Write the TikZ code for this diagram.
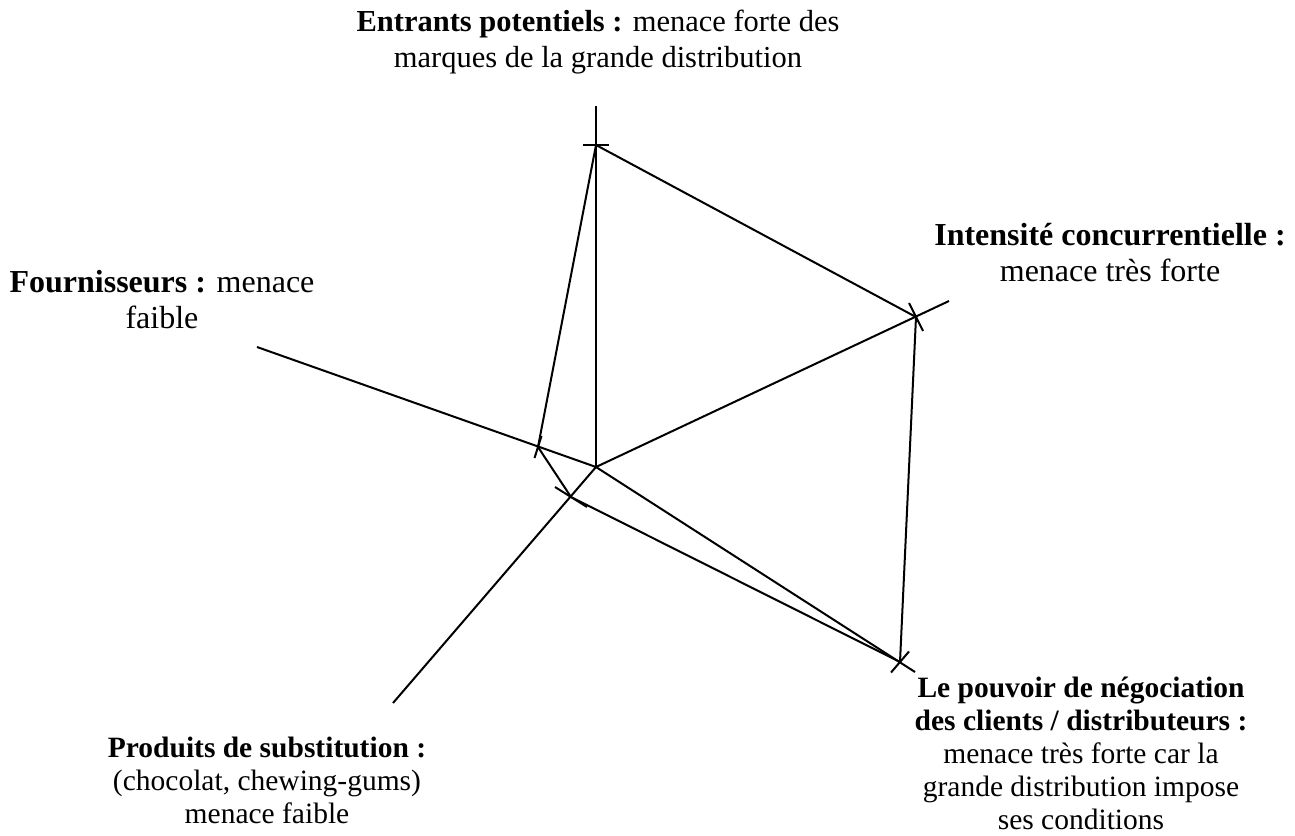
\documentclass[tikz,border=0pt]{standalone}
\usepackage{fontspec}
\setmainfont{Liberation Serif}
\usetikzlibrary{calc}
\begin{document}
\begin{tikzpicture}[x=1pt,y=-1pt,
  axis/.style={line width=2pt, line cap=butt},
  tick/.style={line width=2pt},
  lbl/.style={align=center, inner sep=0pt, font=\fontsize{32}{36}\selectfont},
  lbltop/.style={align=center, inner sep=0pt, font=\fontsize{30.5}{36}\selectfont},
  lblsmall/.style={align=center, inner sep=0pt, font=\fontsize{29.5}{33}\selectfont}]
\useasboundingbox (0,0) rectangle (1295,835);
% centre, axis ends and ticks
\coordinate (C) at (596,467);
\coordinate (T0) at (596,106);
\coordinate (TT) at (596,145);
\coordinate (R0) at (949,301);
\coordinate (RT) at (916,317);
\coordinate (BR0) at (915,672);
\coordinate (BRT) at (900,662);
\coordinate (LL0) at (393,703);
\coordinate (LLT) at (571,497);
\coordinate (L0) at (257,347);
\coordinate (LT) at (538,447);
% spokes
\draw[axis] (C) -- (T0);
\draw[axis] (C) -- (R0);
\draw[axis] (C) -- (BR0);
\draw[axis] (C) -- (LL0);
\draw[axis] (C) -- (L0);
% polygon
\draw[axis, line join=miter] (TT) -- (RT) -- (BRT) -- (LLT) -- (LT) -- cycle;
% ticks
\draw[tick] ($(TT)+(-13,0)$) -- ($(TT)+(13,0)$);
\draw[tick] ($(RT)+(-7,-14)$) -- ($(RT)+(7,14)$);
\draw[tick] ($(BRT)+(-9,10.5)$) -- ($(BRT)+(9,-10.5)$);
\draw[tick] ($(LLT)+(-16,-10)$) -- ($(LLT)+(16,10)$);
\draw[tick] ($(LT)+(-3.5,11)$) -- ($(LT)+(3.5,-11)$);
% labels
\node[lbltop] (top) at (598,42) {\textbf{Entrants potentiels :} menace forte des\\marques de la grande distribution};
\node[lbl] (four) at (162,300) {\textbf{Fournisseurs :} menace\\faible};
\node[lbl] (inten) at (1110,253) {\textbf{Intensité concurrentielle :}\\menace très forte};
\node[lblsmall] (prod) at (267,780) {\textbf{Produits de substitution :}\\(chocolat, chewing-gums)\\menace faible};
\node[lblsmall] (clients) at (1081,753) {\textbf{Le pouvoir de négociation}\\\textbf{des clients / distributeurs :}\\menace très forte car la\\grande distribution impose\\ses conditions};
\end{tikzpicture}
\end{document}
